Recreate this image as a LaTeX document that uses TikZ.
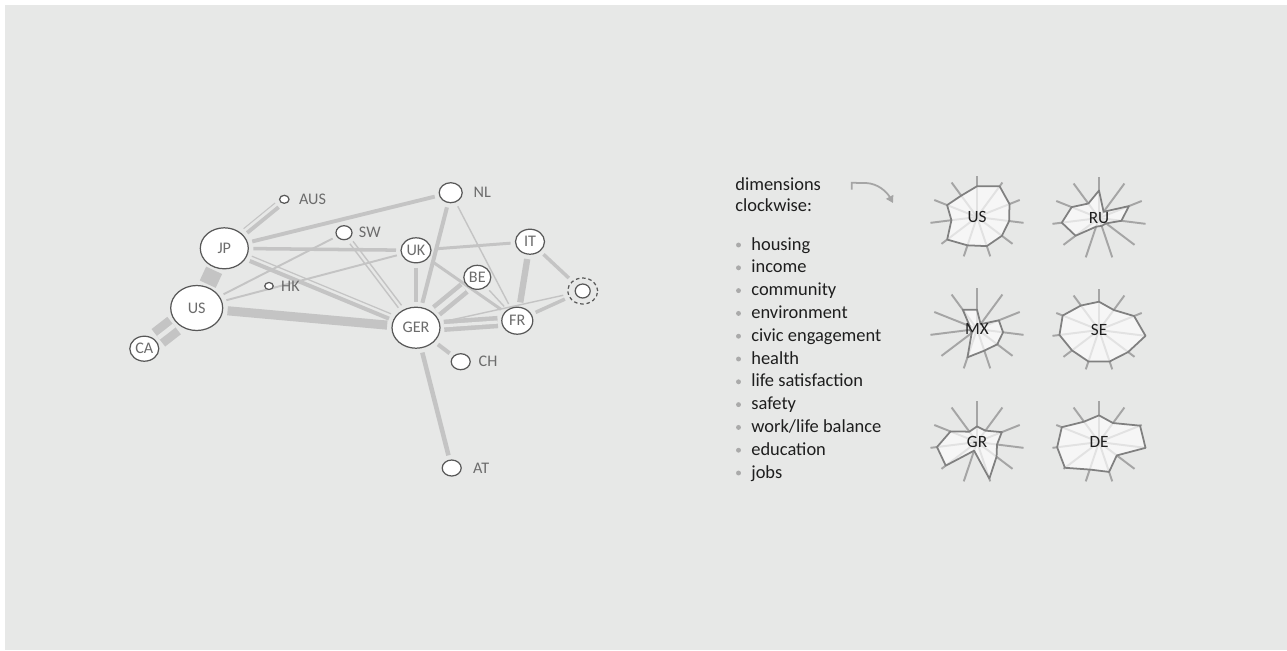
\documentclass[tikz,border=0pt]{standalone}
\usepackage{fontspec}
\setmainfont{Carlito}
\usetikzlibrary{arrows.meta,positioning,shapes.geometric,calc,backgrounds}
\definecolor{canvas}{RGB}{231,232,231}
\definecolor{wire}{RGB}{196,196,196}
\definecolor{rim}{RGB}{88,88,88}
\definecolor{tagtext}{RGB}{108,108,108}
\definecolor{ink}{RGB}{30,30,30}
\definecolor{dotc}{RGB}{170,170,170}
\definecolor{rayc}{RGB}{165,165,165}
\definecolor{rayin}{RGB}{226,226,226}
\definecolor{petal}{RGB}{246,246,246}
\definecolor{petalrim}{RGB}{128,128,128}
\tikzset{
  land/.style 2 args={ellipse,draw=rim,fill=white,line width=0.7pt,inner sep=0pt,
    minimum width=#1,minimum height=#2,font=\fontsize{9.2}{10}\selectfont,text=tagtext},
  ring/.style={ellipse,draw=rim,dash pattern=on 2pt off 1.6pt,line width=0.7pt,inner sep=0pt,
    minimum width=0.6cm,minimum height=0.52cm},
  tag/.style={inner sep=0pt,font=\fontsize{9.2}{10}\selectfont,text=tagtext},
  tie/.style={draw=wire,line width=#1,shorten <=2.5pt,shorten >=2.5pt},
  tie/.default=1pt,
  twin/.style 2 args={draw=wire,line width=#1,double=canvas,double distance=#2,
    shorten <=2pt,shorten >=2pt},
  head/.style={inner sep=0pt,anchor=base west,font=\fontsize{10.5}{12}\selectfont,text=ink},
  turn/.style={draw=rayc,line width=1pt,-{Triangle[length=4pt,width=4.5pt]}},
  % star glyphs
  ray in/.style={draw=rayin,line width=1.1pt},
  ray out/.style={draw=rayc,line width=1.1pt},
  star rim/.style={draw=petalrim,line width=1pt,line join=round},
  star tag/.style={inner sep=0pt,font=\fontsize{9.8}{11}\selectfont,text=ink},
}
\begin{document}
\begin{tikzpicture}[x=0.02cm,y=-0.02cm]
  \useasboundingbox (0,0) rectangle (1287,650);
  % network
  \node[land={0.96cm}{0.82cm}] (jp) at (224.3,248.3) {JP};
  \node[land={1.04cm}{0.9cm}] (us) at (196.7,308) {US};
  \node[land={0.58cm}{0.5cm}] (ca) at (144.3,348.7) {CA};
  \node[land={0.19cm}{0.16cm}] (aus) at (284.3,199.3) {};
  \node[land={0.32cm}{0.28cm}] (sw) at (344,232.7) {};
  \node[land={0.17cm}{0.14cm}] (hk) at (269,286) {};
  \node[land={0.46cm}{0.4cm}] (nl) at (450.7,192.7) {};
  \node[land={0.6cm}{0.5cm}] (uk) at (416,250.3) {UK};
  \node[land={0.58cm}{0.5cm}] (it) at (530,241.7) {IT};
  \node[land={0.54cm}{0.48cm}] (be) at (477.3,277.3) {BE};
  \node[land={0.3cm}{0.28cm}] (sel) at (582.7,291) {};
  \node[ring] (selring) at (sel) {};
  \node[land={0.62cm}{0.54cm}] (fr) at (517.3,320.7) {FR};
  \node[land={0.96cm}{0.82cm}] (ger) at (416,327.7) {GER};
  \node[land={0.38cm}{0.32cm}] (ch) at (460.7,361.7) {};
  \node[land={0.38cm}{0.32cm}] (aut) at (451.7,468) {};
  \node[tag,right=0.18cm of aus] (aus-t) {AUS};
  \node[tag,right=0.12cm of sw] (sw-t) {SW};
  \node[tag,right=0.14cm of hk] (hk-t) {HK};
  \node[tag,right=0.21cm of nl] (nl-t) {NL};
  \node[tag,right=0.15cm of ch] (ch-t) {CH};
  \node[tag,right=0.22cm of aut] (aut-t) {AT};
  \begin{scope}[on background layer]
    \fill[canvas] (5,5) rectangle (1287,650);
    \draw[tie=10pt,shorten <=1.5pt,shorten >=1.5pt] (jp) -- (us);
    \draw[twin={5pt}{2.6pt}] (us) -- (ca);
    \draw[tie=2.2pt,transform canvas={shift={(1.6,1.9)}}] (jp) -- (aus);
    \draw[tie=0.6pt,transform canvas={shift={(-1.9,-2.3)}}] (jp) -- (aus);
    \draw[tie=2.2pt] (jp) -- (nl);
    \draw[tie=2pt] (jp) -- (uk);
    \draw[tie=2.3pt,transform canvas={shift={(-0.8,1.8)}}] (jp) -- (ger);
    \draw[tie=0.7pt,transform canvas={shift={(1.3,-3)}}] (jp) -- (ger);
    \draw[tie=1.1pt] (us) -- (sw);
    \draw[tie=1.1pt] (us) -- (uk);
    \draw[tie=5.2pt] (us) -- (ger);
    \draw[tie=0.8pt,transform canvas={shift={(-1.6,1.2)}}] (sw) -- (ger);
    \draw[tie=0.8pt,transform canvas={shift={(1.6,-1.2)}}] (sw) -- (ger);
    \draw[tie=2.3pt] (nl) -- (ger);
    \draw[tie=0.8pt] (nl) -- (fr);
    \draw[tie=1.7pt] (uk) -- (it);
    \draw[tie=2.8pt] (uk) -- (ger);
    \draw[tie=1.7pt] (uk) -- (fr);
    \draw[twin={2.6pt}{2.8pt}] (be) -- (ger);
    \draw[tie=0.8pt] (be) -- (fr);
    \draw[tie=3.6pt] (it) -- (fr);
    \draw[tie=2pt] (it) -- (selring);
    \draw[tie=0.8pt] (ger) -- (selring);
    \draw[tie=2pt] (fr) -- (selring);
    \draw[twin={2.6pt}{1.8pt}] (ger) -- (fr);
    \draw[tie=2.3pt] (ger) -- (ch);
    \draw[tie=2.6pt] (ger) -- (aut);
  \end{scope}
  % legend
  \node[head] (dim1) at (735,190.7) {dimensions};
  \node[head] (dim2) at (735,211) {clockwise:};
  \foreach \t [count=\i from 0] in {housing,income,community,environment,civic engagement,health,
      life satisfaction,safety,work/life balance,education,jobs} {
    \node[head] (dim-\i) at (751,250+22.8*\i) {\t};
    \fill[dotc] (738.5,245+22.8*\i) circle (1.4pt);
  }
  \coordinate (turn-a) at (851.7,189.5);
  \coordinate (turn-b) at (893,203);
  \draw[turn] (turn-a) -- (851.7,182.8) -- (866,183) .. controls (878,183.5) and (887,192) .. (turn-b);
  % star glyphs, 11 rays clockwise from the top
  \foreach \cx/\cy/\lab/\vals in {
      977/217/US/{0.75,0.89,0.76,0.69,0.7,0.74,0.72,0.84,0.55,0.7,0.62},
      1099/218/RU/{0.67,0.18,0.7,0.48,0.2,0.2,0.22,0.66,0.8,0.64,0.42},
      977/329/MX/{0.47,0.14,0.51,0.56,0.57,0.55,0.72,0.15,0.15,0.17,0.56},
      1099/330/SE/{0.69,0.58,0.82,1,0.82,0.8,0.8,0.76,0.85,0.85,0.71},
      977/442/GR/{0.38,0.33,0.58,0.43,0.55,0.93,0.22,0.88,0.86,0.62,0.3},
      1099/442/DE/{0.65,0.55,0.96,1,0.5,0.76,0.7,0.96,0.9,0.87,0.59}} {
    \begin{scope}[shift={(\cx,\cy)}]
      \foreach \r [count=\k from 0] in \vals {
        \coordinate (v\k) at ({47*\r*cos(90-\k*360/11)},{-41*\r*sin(90-\k*360/11)});
        \coordinate (t\k) at ({47*cos(90-\k*360/11)},{-41*sin(90-\k*360/11)});
      }
      \fill[petal] (v0) -- (v1) -- (v2) -- (v3) -- (v4) -- (v5) -- (v6) -- (v7) -- (v8) -- (v9) -- (v10) -- cycle;
      \foreach \k in {0,...,10} {
        \draw[ray in] (0,0) -- (v\k);
        \draw[ray out] (v\k) -- (t\k);
      }
      \draw[star rim] (v0) -- (v1) -- (v2) -- (v3) -- (v4) -- (v5) -- (v6) -- (v7) -- (v8) -- (v9) -- (v10) -- cycle;
      \node[star tag] (g-\lab) at (0,0) {\lab};
    \end{scope}
  }
\end{tikzpicture}
\end{document}
